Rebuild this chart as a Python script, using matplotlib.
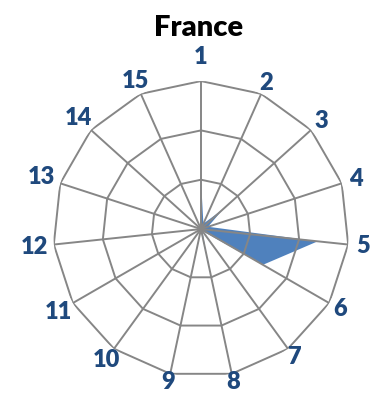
import matplotlib
matplotlib.use('Agg')
import matplotlib.pyplot as plt
import numpy as np

# data
categories = [str(i) for i in range(1, 16)]
values = [1.0, 0.12, 0.6, 0.15, 2.38, 1.45, 0.05, 0.5, 0.03, 0.03, 0.03, 0.03, 0.03, 0.03, 0.03]
rings = [1, 2, 3]
title = 'France'

fill_color = '#4F81BD'
grid_color = '#868686'
label_color = '#1F497D'

n = len(categories)
angles = np.arange(n) * 2 * np.pi / n

fig = plt.figure(figsize=(3.74, 3.94), dpi=100)
ax = fig.add_axes([0.1417, 0.043, 0.7914, 0.7513], projection='polar')
ax.set_theta_zero_location('N')
ax.set_theta_direction(-1)
ax.set_ylim(0, rings[-1])
ax.set_xticks([])
ax.set_yticks([])
ax.grid(False)
ax.spines['polar'].set_visible(False)

# series area
closed_a = np.append(angles, angles[0])
closed_v = np.append(values, values[0])
ax.fill(closed_a, closed_v, color=fill_color, linewidth=0, zorder=2)

# polygon grid and spokes
for r in rings:
    ax.plot(closed_a, [r] * (n + 1), color=grid_color, lw=1.4, zorder=3)
for a in angles:
    ax.plot([a, a], [0, rings[-1]], color=grid_color, lw=1.4, zorder=3)

# category labels, pushed out from the outer ring
for i, (a, lab) in enumerate(zip(angles, categories)):
    d = 10 + 5 * len(lab) * abs(np.sin(a)) + (14 if i == 0 else 0) - 3 * max(-np.cos(a), 0)
    ax.annotate(lab, xy=(a, rings[-1]), xytext=(d * np.sin(a), d * np.cos(a)),
                textcoords='offset pixels', ha='center', va='center',
                fontsize=17, fontweight='heavy', family=['Lato', 'DejaVu Sans'],
                color=label_color, annotation_clip=False)

fig.text(0.53, 0.928, title, ha='center', va='center', fontsize=21,
         fontweight='heavy', family=['Lato', 'DejaVu Sans'], color='black')

fig.savefig('out.png', dpi=100)
